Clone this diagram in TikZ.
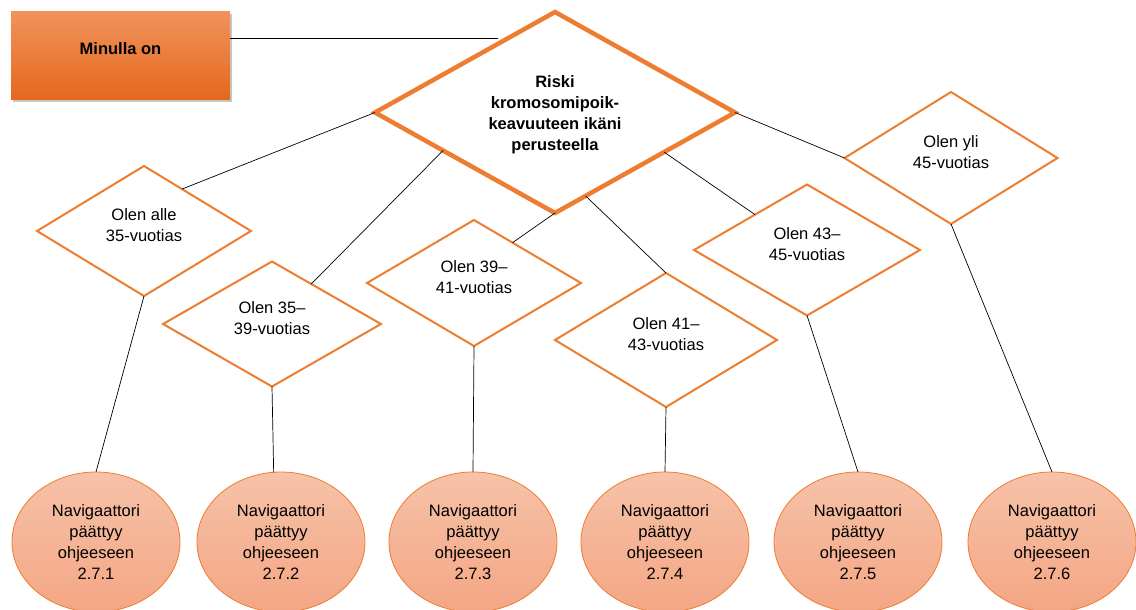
\documentclass[tikz,border=0pt]{standalone}
\usepackage{fontspec}
\setmainfont{Liberation Sans}
\usetikzlibrary{shapes.geometric,shadows,calc}

\definecolor{accent}{RGB}{237,125,49}
\definecolor{boxtop}{RGB}{241,146,92}
\definecolor{boxmid}{RGB}{240,124,46}
\definecolor{boxbot}{RGB}{228,104,28}
\definecolor{endtop}{RGB}{246,194,168}
\definecolor{endbot}{RGB}{244,166,132}

% extra depth below the last line, lifting the text above the shape centre
\newcommand{\lowpad}{\rule[-11.5pt]{0pt}{11.5pt}}
% extra height above the first line, lowering the text a little
\newcommand{\highpad}{\rule{0pt}{16pt}}

\tikzset{
  basefont/.style={font=\fontsize{16.5}{21}\selectfont},
  startbox/.style={basefont, rectangle, minimum width=219pt, minimum height=88pt,
    inner sep=0pt, outer sep=0pt, top color=boxtop, middle color=boxmid, bottom color=boxbot,
    drop shadow={shadow xshift=1.5pt, shadow yshift=-2.5pt, fill=black, opacity=0.22}},
  mainq/.style={basefont, shape=diamond, draw=accent, line width=4.5pt, fill=white,
    inner sep=0pt, outer sep=0pt, aspect=1.79, minimum width=360pt, minimum height=201pt,
    align=center},
  agebox/.style={basefont, shape=diamond, draw=accent, line width=2pt, fill=white,
    inner sep=0pt, outer sep=0pt, aspect=1.65, align=center},
  endnode/.style={basefont, shape=ellipse, draw=accent, line width=0.8pt,
    top color=endtop, bottom color=endbot, inner sep=0pt, outer sep=0pt,
    minimum width=168pt, minimum height=140pt, align=center},
  link/.style={draw=black, line width=0.7pt}
}

\begin{document}
\begin{tikzpicture}[x=1pt,y=-1pt]
\useasboundingbox (0,0) rectangle (1136,610);

% start box and main question
\node[startbox] (start) at (120.5,56) {\raisebox{14pt}{\bfseries Minulla on}};
\node[mainq] (main) at (555,112.5)
  {\highpad\bfseries Riski\\\bfseries kromosomipoik-\\\bfseries keavuuteen ikäni\\\bfseries perusteella};

% age choices
\node[agebox, minimum width=214pt, minimum height=130pt] (d1) at (144,231) {Olen alle\\35-vuotias\lowpad};
\node[agebox, minimum width=218pt, minimum height=125pt] (d2) at (272,324) {Olen 35–\\39-vuotias\lowpad};
\node[agebox, minimum width=214pt, minimum height=126pt] (d3) at (474,283) {Olen 39–\\41-vuotias\lowpad};
\node[agebox, minimum width=222pt, minimum height=134pt] (d4) at (666,340) {Olen 41–\\43-vuotias\lowpad};
\node[agebox, minimum width=226pt, minimum height=131pt] (d5) at (807,250) {Olen 43–\\45-vuotias\lowpad};
\node[agebox, minimum width=213pt, minimum height=132pt] (d6) at (951,158) {Olen yli\\45-vuotias\lowpad};

% end points
\node[endnode] (e1) at (96,542)   {Navigaattori\\päättyy\\ohjeeseen\\2.7.1};
\node[endnode] (e2) at (281,542)  {Navigaattori\\päättyy\\ohjeeseen\\2.7.2};
\node[endnode] (e3) at (473,542)  {Navigaattori\\päättyy\\ohjeeseen\\2.7.3};
\node[endnode] (e4) at (665,542)  {Navigaattori\\päättyy\\ohjeeseen\\2.7.4};
\node[endnode] (e5) at (858,542)  {Navigaattori\\päättyy\\ohjeeseen\\2.7.5};
\node[endnode] (e6) at (1052,542) {Navigaattori\\päättyy\\ohjeeseen\\2.7.6};

% connectors
\coordinate (mainin) at (498,38);
\draw[link] ([yshift=18pt]start.east) -- (mainin);
\draw[link] (main.west) -- ($(d1.north)!0.355!(d1.east)$);
\draw[link] ($(main.west)!0.378!(main.south)$) -- ($(d2.north)!0.36!(d2.east)$);
\draw[link] (main.south) -- ($(d3.north)!0.36!(d3.east)$);
\draw[link] ($(main.south)!0.17!(main.east)$) -- (d4.north);
\draw[link] ($(main.south)!0.606!(main.east)$) -- ($(d5.west)!0.54!(d5.north)$);
\draw[link] (main.east) -- (d6.west);

\draw[link] (d1.south) -- (e1.north);
\draw[link] (d2.south) -- (e2.96);
\draw[link] (d3.south) -- (e3.north);
\draw[link] (d4.south) -- (e4.north);
\draw[link] (d5.south) -- (e5.north);
\draw[link] (d6.south) -- (e6.north);
\end{tikzpicture}
\end{document}
